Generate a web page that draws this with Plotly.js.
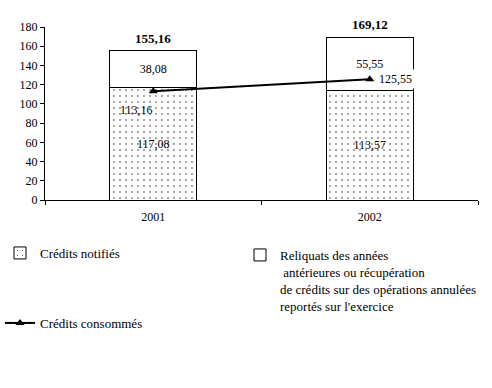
<!DOCTYPE html>
<html>
<head>
<meta charset="utf-8">
<script src="https://cdn.plot.ly/plotly-3.0.1.min.js"></script>
<style>html,body{margin:0;padding:0;background:#fff;}#chart{width:492px;height:388px;}</style>
</head>
<body>
<div id="chart"></div>
<script>
var categories = ['2001', '2002'];
var creditsNotifies = [117.08, 113.57];
var reliquats = [38.08, 55.55];
var creditsConsommes = [113.16, 125.55];
var yTicks = [0, 20, 40, 60, 80, 100, 120, 140, 160, 180];

var FONT = 'Liberation Serif, Times New Roman, serif';
function fr(v) { return v.toFixed(2).replace('.', ','); }
var totals = categories.map(function (c, i) { return creditsNotifies[i] + reliquats[i]; });

var traces = [
  {
    type: 'bar', name: 'Crédits notifiés', x: categories, y: creditsNotifies,
    marker: { color: 'white', line: { color: 'black', width: 1 },
      pattern: { shape: '.', fgcolor: 'black', bgcolor: 'white', size: 6, solidity: 0.035 } },
    texttemplate: '%{y:.2f}', textposition: 'inside', insidetextanchor: 'middle',
    textfont: { family: FONT, size: 12, color: 'black' }, legend: 'legend', hoverinfo: 'skip'
  },
  {
    type: 'bar', name: 'Reliquats des années<br> antérieures ou récupération<br>de crédits sur des opérations annulées<br>reportés sur l\'exercice',
    x: categories, y: reliquats,
    marker: { color: 'white', line: { color: 'black', width: 1 } },
    texttemplate: '%{y:.2f}', textposition: 'inside', insidetextanchor: 'middle',
    textfont: { family: FONT, size: 12, color: 'black' }, legend: 'legend2', hoverinfo: 'skip'
  },
  {
    type: 'scatter', mode: 'lines+markers', name: 'Crédits consommés', x: categories, y: creditsConsommes,
    line: { color: 'black', width: 2 }, marker: { symbol: 'triangle-up', size: 8, color: 'black' },
    legend: 'legend3', hoverinfo: 'skip'
  }
];

// annotations on a category axis use the category index
var annotations = [];
categories.forEach(function (c, i) {
  annotations.push({ x: i, y: totals[i], xref: 'x', yref: 'y', text: '<b>' + fr(totals[i]) + '</b>',
    showarrow: false, yanchor: 'bottom', yshift: 3, font: { family: FONT, size: 13, color: 'black' } });
});
var lineShift = [[-17, -19], [26, 0]];
categories.forEach(function (c, i) {
  annotations.push({ x: i, y: creditsConsommes[i], xref: 'x', yref: 'y', text: fr(creditsConsommes[i]),
    showarrow: false, xshift: lineShift[i][0], yshift: lineShift[i][1], bgcolor: i === 1 ? 'white' : 'rgba(0,0,0,0)',
    borderpad: 2, font: { family: FONT, size: 12, color: 'black' } });
});

var legendBase = { xref: 'container', yref: 'container', bgcolor: 'rgba(0,0,0,0)', borderwidth: 0,
  font: { family: FONT, size: 13, color: 'black' }, valign: 'top', itemclick: false };

var layout = {
  width: 492, height: 388,
  margin: { l: 45, r: 14, t: 27, b: 188, autoexpand: false },
  paper_bgcolor: 'white', plot_bgcolor: 'white',
  separators: ', ',
  barmode: 'stack', bargap: 0.6,
  font: { family: FONT, size: 12, color: 'black' },
  xaxis: { type: 'category', range: [-0.5, 1.5], showline: true, linecolor: 'black', linewidth: 1, ticks: 'outside',
    tickson: 'boundaries', ticklen: 4, tickcolor: 'black', showgrid: false, zeroline: false, ticklabelstandoff: 6,
    tickfont: { family: FONT, size: 12, color: 'black' }, fixedrange: true, automargin: false },
  yaxis: { range: [0, 180], tickvals: yTicks, showline: true, linecolor: 'black', linewidth: 1,
    ticks: 'outside', ticklen: 4, tickcolor: 'black', showgrid: false, zeroline: false,
    tickfont: { family: FONT, size: 12, color: 'black' }, fixedrange: true, automargin: false },
  annotations: annotations,
  showlegend: true,
  legend: Object.assign({}, legendBase, { x: 0, y: 1 - 253 / 388, xanchor: 'left', yanchor: 'middle' }),
  legend2: Object.assign({}, legendBase, { x: 240 / 492, y: 1 - 240 / 388, xanchor: 'left', yanchor: 'top' }),
  legend3: Object.assign({}, legendBase, { x: 0, y: 1 - 323 / 388, xanchor: 'left', yanchor: 'middle' })
};

Plotly.newPlot('chart', traces, layout, { staticPlot: true, displayModeBar: false });
</script>
</body>
</html>
